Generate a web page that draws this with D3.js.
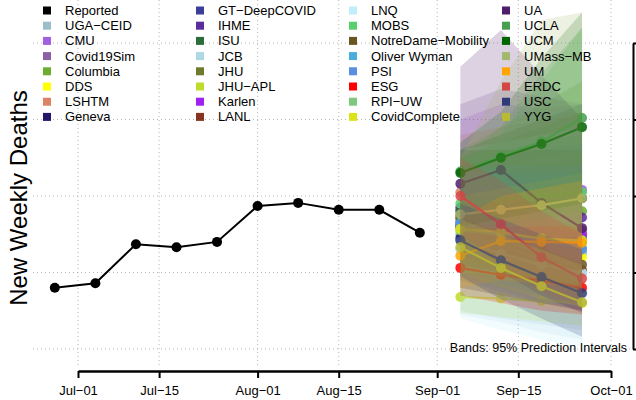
<!DOCTYPE html>
<html><head><meta charset="utf-8">
<script src="https://cdn.jsdelivr.net/npm/d3@7"></script>
<style>
body{margin:0;background:#fff}
svg{display:block}
text{font-family:"Liberation Sans",Arial,Helvetica,sans-serif}
</style>
</head><body>
<svg id="chart" width="636" height="400"></svg>
<script>
// ---------- DATA ----------
const reportedDates = ["2020-06-27","2020-07-04","2020-07-11","2020-07-18","2020-07-25","2020-08-01","2020-08-08","2020-08-15","2020-08-22","2020-08-29"];
const reportedValues = [80, 86, 137, 133, 140, 187, 191, 182, 182, 152];

const forecastDates = ["2020-09-05","2020-09-12","2020-09-19","2020-09-26"];

const models = ["UGA−CEID","CMU","Covid19Sim","Columbia","DDS","LSHTM","Geneva",
  "GT−DeepCOVID","IHME","ISU","JCB","JHU","JHU−APL","Karlen","LANL",
  "LNQ","MOBS","NotreDame−Mobility","Oliver Wyman","PSI","ESG","RPI−UW","CovidComplete",
  "UA","UCLA","UCM","UMass−MB","UM","ERDC","USC","YYG"];
const modelColors = ["#9ABFCB","#A45EE0","#8D5FA3","#6BAE2E","#FFFF00","#DD8466","#24146B",
  "#3B3F9A","#5B2C9C","#2D6B3B","#ADD8E6","#6E7B2D","#C0DC2A","#A020F0","#873522",
  "#C0EEFB","#59CF6B","#6B5523","#4AAEDB","#5B8EE0","#FF0000","#7FC97F","#DDE31B",
  "#4F1D6B","#46A050","#006400","#A3B86C","#FFA500","#D64545","#313A78","#B8BA33"];

const forecastPoints = [
  [150,140,130,125],[182,195,205,208],[175,170,160,155],[165,170,175,180],[155,148,135,120],
  [205,185,165,150],[145,130,115,100],[160,155,150,145],[185,180,175,172],[180,188,192,197],
  [130,120,110,100],[172,178,188,197],[68,66,63,60],[165,160,155,150],[160,140,120,103],
  [140,125,110,100],[190,195,200,205],[170,150,130,110],[165,150,140,132],[162,150,140,130],
  [106,97,90,80],[155,150,145,140],[157,153,144,142],
  [216,234,191,158],[232,252,271,302],[230,250,268,290],[176,182,188,197],[122,141,140,139],
  [200,163,120,92],[142,116,94,73],[133,106,82,61]
];
const forecastLower = [
  [50,40,32,25],[120,110,100,90],[100,80,60,50],[90,80,70,60],[90,70,55,45],
  [120,100,80,60],[100,80,65,50],[80,70,60,50],[150,140,130,120],[110,100,90,80],
  [45,35,22,12],[100,90,80,70],[47,42,36,30],[120,110,100,90],[120,100,80,60],
  [40,25,12,3],[120,130,140,150],[80,70,60,50],[100,85,70,60],[90,75,60,55],
  [70,60,50,45],[70,65,60,55],[110,100,90,80],
  [110,100,70,47],[150,160,170,180],[160,170,180,190],[100,95,90,85],[80,90,85,80],
  [150,110,75,55],[95,65,40,16],[100,80,65,55]
];
const forecastUpper = [
  [250,260,270,280],[300,320,315,320],[320,340,330,320],[260,290,320,350],[220,230,240,250],
  [280,290,300,310],[200,200,195,190],[240,250,260,270],[220,230,240,250],[260,280,300,320],
  [230,240,250,260],[250,270,290,310],[120,120,115,110],[210,215,220,225],[200,190,170,160],
  [260,270,280,290],[240,280,350,420],[260,260,260,260],[230,230,230,230],[240,240,240,240],
  [160,160,160,160],[250,260,270,280],[200,210,220,230],
  [369,417,358,301],[250,290,360,420],[270,310,380,440],[250,350,430,440],[170,200,210,220],
  [250,220,180,150],[190,170,150,130],[170,150,130,110]
];

const xTicks = ["2020-07-01","2020-07-15","2020-08-01","2020-08-15","2020-09-01","2020-09-15","2020-10-01"];
const xTickLabels = ["Jul−01","Jul−15","Aug−01","Aug−15","Sep−01","Sep−15","Oct−01"];
const yTicks = [0,100,200,300,400];

// ---------- SETUP ----------
const parse = d3.utcParse("%Y-%m-%d");
const svg = d3.select("#chart");
const plot = {left:33, right:633, top:0, bottom:368};

const x = d3.scaleUtc().domain([parse("2020-07-01"), parse("2020-10-01")]).range([78, 611]);
const y = d3.scaleLinear().domain([0, 400]).range([349, 43]);

// grid
const grid = svg.append("g").attr("stroke","#b5b5b5").attr("stroke-width",1).attr("stroke-dasharray","1,3");
grid.selectAll("line.v").data(xTicks).join("line")
  .attr("x1",d=>x(parse(d))).attr("x2",d=>x(parse(d)))
  .attr("y1",plot.top).attr("y2",plot.bottom);
grid.selectAll("line.h").data(yTicks).join("line")
  .attr("x1",plot.left).attr("x2",plot.right)
  .attr("y1",d=>y(d)).attr("y2",d=>y(d));

// reported
const line = d3.line().x(d=>x(d.date)).y(d=>y(d.v));
const rep = reportedDates.map((d,i)=>({date:parse(d), v:reportedValues[i]}));
svg.append("path").datum(rep).attr("d",line).attr("fill","none").attr("stroke","#000").attr("stroke-width",2);
svg.append("g").selectAll("circle").data(rep).join("circle")
  .attr("cx",d=>x(d.date)).attr("cy",d=>y(d.v)).attr("r",5).attr("fill","#000");

// each model: band, then line & points (later bands cover earlier lines)
const fDates = forecastDates.map(parse);
const area = d3.area().x(d=>x(d.date)).y0(d=>y(d.lo)).y1(d=>y(d.hi));
const fg = svg.append("g");
models.forEach((m,i)=>{
  const band = fDates.map((dt,j)=>({date:dt, lo:forecastLower[i][j], hi:forecastUpper[i][j]}));
  fg.append("path").datum(band).attr("d",area)
    .attr("fill",modelColors[i]).attr("fill-opacity",0.2);
  const data = fDates.map((dt,j)=>({date:dt, v:forecastPoints[i][j]}));
  const g = fg.append("g").attr("opacity",0.85);
  g.append("path").datum(data).attr("d",line).attr("fill","none")
    .attr("stroke",modelColors[i]).attr("stroke-width",2.2);
  g.selectAll("circle").data(data).join("circle")
    .attr("cx",d=>x(d.date)).attr("cy",d=>y(d.v)).attr("r",5).attr("fill",modelColors[i]);
});

// x axis
const xAxis = d3.axisBottom(x).tickValues(xTicks.map(parse))
  .tickFormat((d,i)=>xTickLabels[i]).tickSize(7).tickSizeOuter(0).tickPadding(8);
const gx = svg.append("g").attr("transform","translate(0,371)").call(xAxis);
gx.select(".domain").attr("stroke","#000").attr("stroke-width",2.5);
gx.selectAll(".tick line").attr("stroke","#000").attr("stroke-width",2);
gx.selectAll(".tick text").attr("font-size",13).attr("fill","#000")
  .attr("font-family","'Liberation Sans',Arial,sans-serif");

// right y axis (labels fall outside the picture in the reference)
const yAxis = d3.axisRight(y).tickValues(yTicks).tickFormat("").tickSize(7).tickSizeOuter(0);
const gy = svg.append("g").attr("transform","translate(633,0)").call(yAxis);
gy.select(".domain").attr("stroke","#000").attr("stroke-width",2);
gy.selectAll(".tick line").attr("stroke","#000").attr("stroke-width",2);

// y title
svg.append("text").attr("transform","translate(27,198) rotate(-90)")
  .attr("text-anchor","middle").attr("font-size",24).attr("fill","#000")
  .text("New Weekly Deaths");

// band note
svg.append("text").attr("x",627).attr("y",352).attr("text-anchor","end")
  .attr("font-size",12.5).attr("fill","#000").text("Bands: 95% Prediction Intervals");

// legend
const legNames = ["Reported"].concat(models);
const legColors = ["#000000"].concat(modelColors);
const leg = svg.append("g");
legNames.forEach((n,i)=>{
  const col = Math.floor(i/8), row = i%8;
  const lx = 43 + col*153, ly = 10.5 + row*15.2;
  leg.append("rect").attr("x",lx).attr("y",ly-4).attr("width",8).attr("height",8).attr("fill",legColors[i]);
  leg.append("text").attr("x",lx+22).attr("y",ly).attr("dy","0.35em")
    .attr("font-size",13).attr("fill","#000").text(n);
});
</script>
</body></html>
